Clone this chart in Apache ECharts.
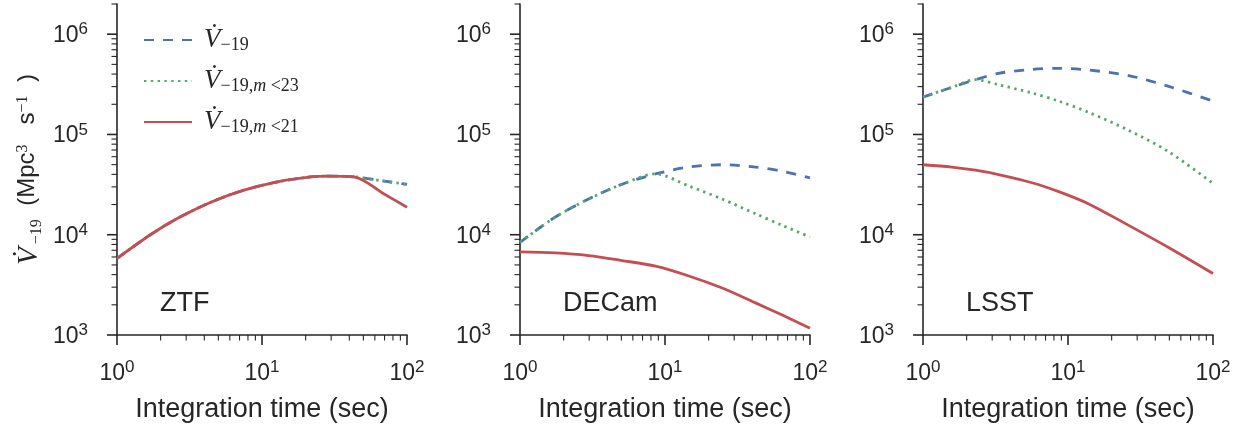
<!DOCTYPE html>
<html><head><meta charset="utf-8">
<script src="https://cdn.jsdelivr.net/npm/echarts@6/dist/echarts.min.js"></script>
<style>html,body{margin:0;padding:0;background:#fff}#c{width:1239px;height:428px}</style>
</head><body><div id="c"></div>
<script>
// ---------- data ----------
const panelNames = ['ZTF', 'DECam', 'LSST'];
const seriesKeys = ['V19', 'V19m23', 'V19m21'];

const ztfTime   = [1, 1.7, 2.6, 4.4, 7.5, 12.8, 21.7, 28.3, 43, 70, 100];
const ztfV19    = [5.8e3, 1.0e4, 1.45e4, 2.1e4, 2.78e4, 3.37e4, 3.77e4, 3.84e4, 3.78e4, 3.42e4, 3.18e4];
const ztfV19m23 = [5.8e3, 1.0e4, 1.45e4, 2.1e4, 2.78e4, 3.37e4, 3.77e4, 3.84e4, 3.78e4, 3.42e4, 3.18e4];
const ztfV19m21 = [5.8e3, 1.0e4, 1.45e4, 2.1e4, 2.78e4, 3.37e4, 3.77e4, 3.84e4, 3.78e4, 2.53e4, 1.88e4];

const decTime   = [1, 1.75, 2.97, 5.04, 8.6, 14.6, 24.8, 42.1, 64.4, 100];
const decV19    = [8.4e3, 1.5e4, 2.27e4, 3.18e4, 4.04e4, 4.73e4, 4.99e4, 4.73e4, 4.29e4, 3.69e4];
const decV19m23 = [8.4e3, 1.5e4, 2.27e4, 3.18e4, 4.04e4, 3.06e4, 2.27e4, 1.62e4, 1.24e4, 9.5e3];
const decV19m21 = [6.73e3, 6.58e3, 6.19e3, 5.53e3, 4.86e3, 3.88e3, 2.94e3, 2.09e3, 1.58e3, 1.17e3];

const lsstTime   = [1, 1.58, 2.3, 3.32, 5.65, 8.63, 13.9, 26.2, 49.4, 100];
const lsstV19    = [2.36e5, 2.95e5, 3.52e5, 4.07e5, 4.46e5, 4.56e5, 4.39e5, 3.87e5, 3.02e5, 2.15e5];
const lsstV19m23 = [2.36e5, 2.95e5, 3.52e5, 3.13e5, 2.59e5, 2.15e5, 1.66e5, 1.10e5, 6.73e4, 3.25e4];
const lsstV19m21 = [4.99e4, 4.73e4, 4.40e4, 3.98e4, 3.30e4, 2.69e4, 2.03e4, 1.24e4, 7.46e3, 4.1e3];

const xMajorTicks = [1, 10, 100];
const yMajorTicks = [1e3, 1e4, 1e5, 1e6];
const minorMultipliers = [2, 3, 4, 5, 6, 7, 8, 9];
const xRange = [1, 100];
const yRange = [1e3, 2e6];

// ---------- styling ----------
const INK = '#262626';
const SANS = '"Liberation Sans", Arial, sans-serif';
const SERIF = '"Liberation Serif", "DejaVu Serif", serif';
const colors = { V19: '#4C72B0', V19m23: '#55A868', V19m21: '#C44E52' };
const dashes = { V19: [10, 9], V19m23: [2.4, 4.4], V19m21: 'solid' };

const panels = [
  { time: ztfTime, vals: [ztfV19, ztfV19m23, ztfV19m21] },
  { time: decTime, vals: [decV19, decV19m23, decV19m21] },
  { time: lsstTime, vals: [lsstV19, lsstV19m23, lsstV19m21] }
];
const gridLefts = [117, 520, 923];
const GRID_TOP = 4, GRID_H = 338, GRID_W = 290;

const tickRich = {
  b: { fontFamily: SANS, fontSize: 23, color: INK, lineHeight: 26, padding: [4, 0, 0, 0], verticalAlign: 'bottom' },
  e: { fontFamily: SANS, fontSize: 17, color: INK, lineHeight: 17, verticalAlign: 'top' }
};
function tickFmt(v) {
  const e = Math.log10(v);
  const r = Math.round(e);
  if (Math.abs(e - r) > 1e-6) return '';
  return '{b|10}{e|' + r + '}';
}

const nameRich = {
  v: { fontFamily: SERIF, fontStyle: 'italic', fontSize: 29, color: INK, lineHeight: 30, padding: [0, 3, 4, 0], verticalAlign: 'top' },
  s: { fontFamily: SERIF, fontSize: 16, color: INK, lineHeight: 16, verticalAlign: 'bottom' },
  n: { fontFamily: SANS, fontSize: 24, color: INK, lineHeight: 30, verticalAlign: 'top' },
  sup: { fontFamily: SERIF, fontSize: 16, color: INK, lineHeight: 16, verticalAlign: 'top' }
};
const legendRich = {
  v: { fontFamily: SERIF, fontStyle: 'italic', fontSize: 27, color: INK, lineHeight: 28, padding: [0, 0, 4, 0], verticalAlign: 'top' },
  s: { fontFamily: SERIF, fontSize: 18, color: INK, lineHeight: 18, verticalAlign: 'bottom' },
  si: { fontFamily: SERIF, fontStyle: 'italic', fontSize: 18, color: INK, lineHeight: 18, verticalAlign: 'bottom' }
};
const legendLabels = {
  V19: '{v|V\u0307}{s|\u221219}',
  V19m23: '{v|V\u0307}{s|\u221219,}{si|m}{s| <23}',
  V19m21: '{v|V\u0307}{s|\u221219,}{si|m}{s| <21}'
};

// tick marks (major + minor) drawn through the axes' own scales
function tickItems() {
  const d = [];
  xMajorTicks.forEach(v => d.push([v, yRange[0], 0]));
  for (let dec = 1; dec < 100; dec *= 10) minorMultipliers.forEach(m => d.push([m * dec, yRange[0], 1]));
  yMajorTicks.forEach(v => d.push([xRange[0], v, 2]));
  for (let dec = 1e3; dec <= 1e6; dec *= 10) minorMultipliers.forEach(m => { if (m * dec <= yRange[1]) d.push([xRange[0], m * dec, 3]); });
  return d;
}
const tickData = tickItems();

const grid = [], xAxis = [], yAxis = [], series = [], graphic = [];
panels.forEach((p, i) => {
  grid.push({ left: gridLefts[i], top: GRID_TOP, width: GRID_W, height: GRID_H, containLabel: false });
  xAxis.push({
    type: 'log', logBase: 10, gridIndex: i, min: xRange[0], max: xRange[1],
    axisLine: { show: true, onZero: false, lineStyle: { color: INK, width: 1.6 } },
    axisTick: { show: false }, splitLine: { show: false }, minorTick: { show: false },
    axisLabel: { formatter: tickFmt, rich: tickRich, margin: 24, showMinLabel: true, showMaxLabel: true, hideOverlap: false },
    name: 'Integration time (sec)', nameLocation: 'middle', nameGap: 61,
    nameTextStyle: { fontFamily: SANS, fontSize: 27, color: INK }
  });
  const y = {
    type: 'log', logBase: 10, gridIndex: i, min: yRange[0], max: yRange[1],
    axisLine: { show: true, onZero: false, lineStyle: { color: INK, width: 1.6 } },
    axisTick: { show: false }, splitLine: { show: false }, minorTick: { show: false },
    axisLabel: { formatter: tickFmt, rich: tickRich, margin: 29, hideOverlap: false }
  };
  if (i === 0) {
    y.name = '{v|V\u0307}{s|\u221219}{n|  (Mpc}{sup|3}{n|   s}{sup|\u22121}{n|  )}';
    y.nameLocation = 'middle';
    y.nameRotate = 90;
    y.nameGap = 72;
    y.nameTextStyle = { rich: nameRich };
  }
  yAxis.push(y);
  seriesKeys.forEach((k, j) => {
    series.push({
      type: 'line', name: k, xAxisIndex: i, yAxisIndex: i,
      data: p.time.map((t, n) => [t, p.vals[j][n]]),
      symbol: 'none', color: colors[k], clip: true, smooth: 0.3,
      lineStyle: { color: colors[k], width: 2.8, type: dashes[k], cap: 'butt' },
      z: 2 + j, animation: false
    });
  });
  series.push({
    type: 'custom', xAxisIndex: i, yAxisIndex: i, data: tickData, clip: false, silent: true, animation: false, z: 10,
    renderItem: (params, api) => {
      const kind = api.value(2);
      const pt = api.coord([api.value(0), api.value(1)]);
      let shape;
      if (kind === 0) shape = { x1: pt[0], y1: pt[1], x2: pt[0], y2: pt[1] + 10 };
      else if (kind === 1) shape = { x1: pt[0], y1: pt[1], x2: pt[0], y2: pt[1] + 5.5 };
      else if (kind === 2) shape = { x1: pt[0] - 10, y1: pt[1], x2: pt[0], y2: pt[1] };
      else shape = { x1: pt[0] - 5.5, y1: pt[1], x2: pt[0], y2: pt[1] };
      return { type: 'line', shape, style: { stroke: INK, lineWidth: (kind % 2 === 0) ? 1.6 : 1.1 } };
    }
  });
  graphic.push({
    type: 'text', left: gridLefts[i] + 43, top: 290,
    style: { text: panelNames[i], fontFamily: SANS, fontSize: 27, fill: INK }
  });
});

const chart = echarts.init(document.getElementById('c'), null, { renderer: 'canvas' });
chart.setOption({
  animation: false,
  backgroundColor: '#fff',
  grid, xAxis, yAxis, series, graphic,
  legend: {
    orient: 'vertical', left: 138, top: 21, itemWidth: 48, itemHeight: 10, itemGap: 10,
    data: seriesKeys,
    formatter: k => legendLabels[k],
    itemStyle: { opacity: 0 },
    textStyle: { rich: legendRich, padding: [0, 0, 0, 7] }
  },
  tooltip: { show: false }
});
</script>
</body></html>
